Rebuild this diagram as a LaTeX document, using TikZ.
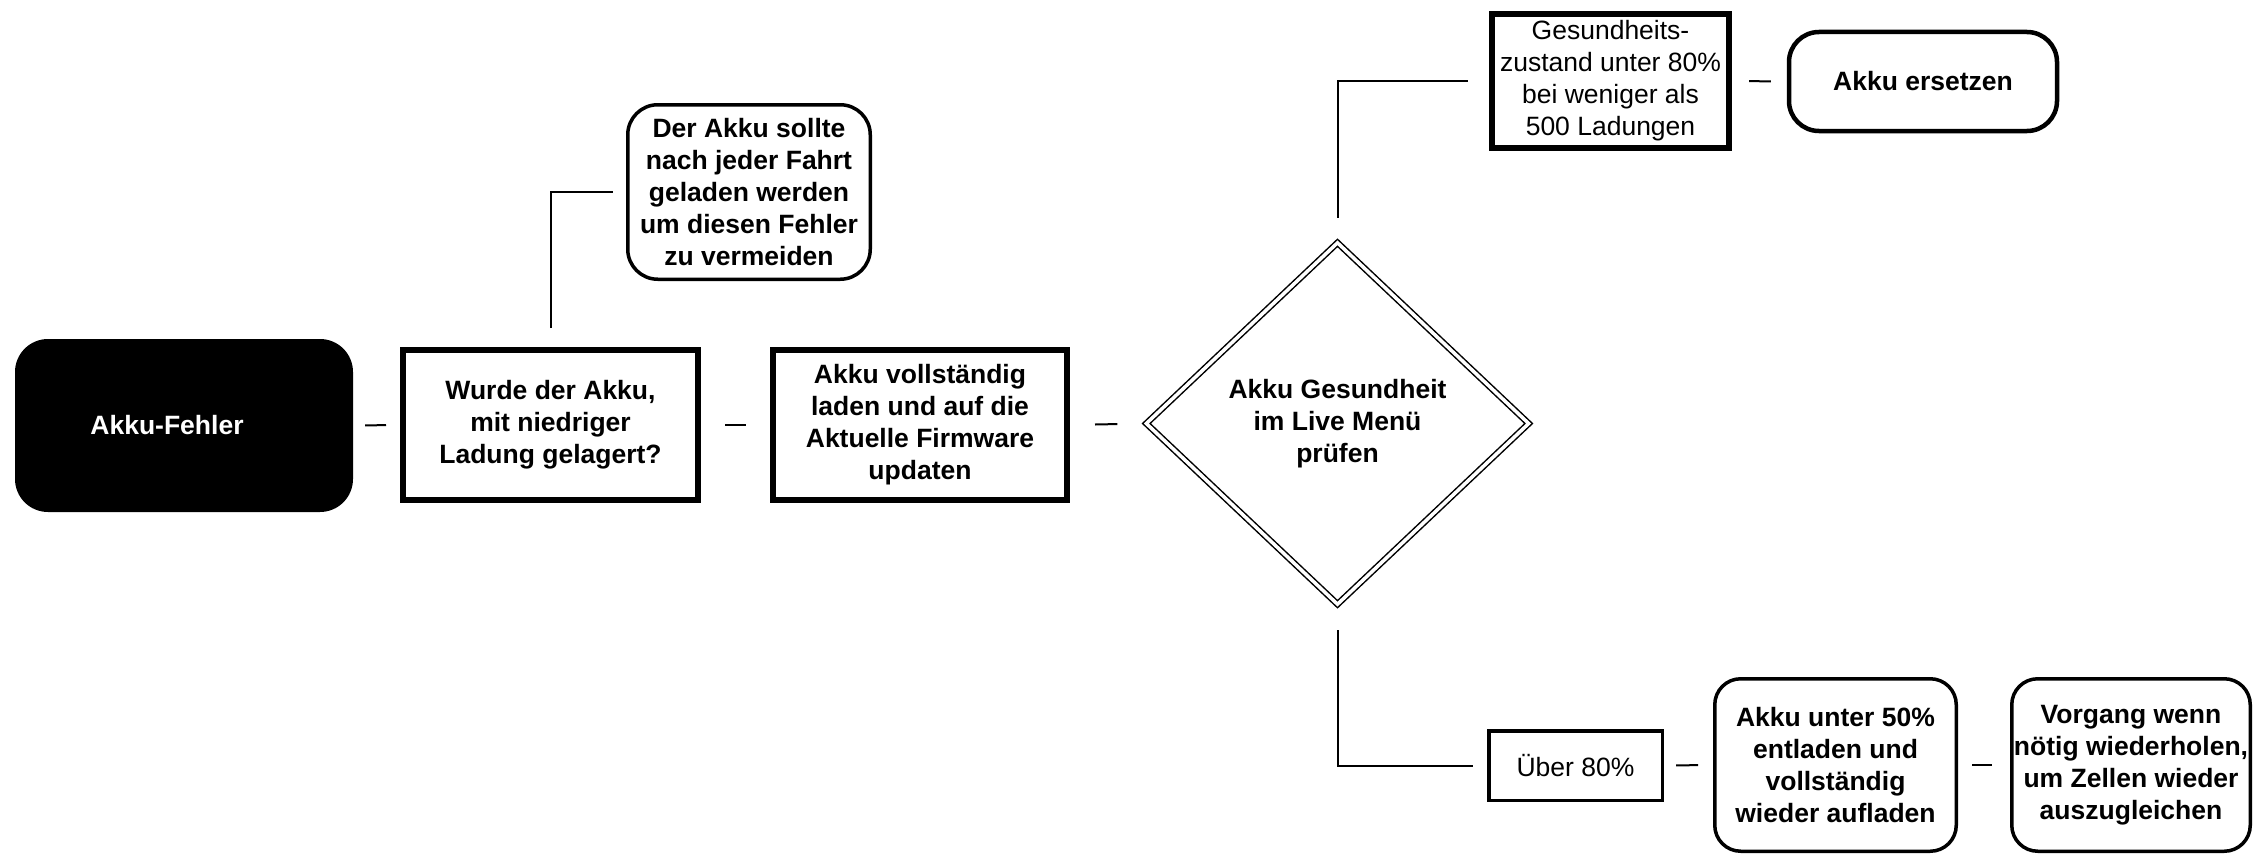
\documentclass[tikz,border=0pt]{standalone}
\usepackage{fontspec}
\setmainfont{Liberation Sans}
\usetikzlibrary{shapes.geometric}
\begin{document}
\begin{tikzpicture}[x=1pt,y=-1pt,
  every node/.style={align=center,font=\fontsize{26.5}{32}\selectfont\bfseries},
  startbox/.style={fill=black,text=white,rounded corners=33pt,minimum width=338pt,minimum height=173pt},
  squarebox/.style={draw,line width=6pt,inner sep=0pt},
  thinbox/.style={draw,line width=3.5pt,inner sep=0pt},
  roundbox/.style={draw,line width=3.5pt,rounded corners=30pt,inner sep=0pt},
  checkbox/.style={draw,shape=diamond,double,line width=1.5pt,double distance=3.5pt,inner sep=0pt,minimum width=383pt,minimum height=362pt},
  plain/.style={font=\fontsize{26.5}{32}\selectfont},
  link/.style={draw,line width=2pt,-}]
\useasboundingbox (0,0) rectangle (2260,859);
\node[startbox] (1) at (184,425.5) {Akku-Fehler\hspace*{34pt}};
\node[squarebox,minimum width=295pt,minimum height=150pt] (2) at (550.5,425) {Wurde der Akku,\\mit niedriger\\Ladung gelagert?};
\node[squarebox,minimum width=294pt,minimum height=150pt] (3) at (920,425) {Akku vollständig\\laden und auf die\\Aktuelle Firmware\\updaten};
\node[checkbox] (4) at (1337.5,423.5) {Akku Gesundheit\\im Live Menü\\prüfen};
\node[roundbox,minimum width=242.5pt,minimum height=174.5pt] (5) at (749,192) {Der Akku sollte\\nach jeder Fahrt\\geladen werden\\um diesen Fehler\\zu vermeiden};
\node[squarebox,plain,minimum width=237pt,minimum height=134pt] (6) at (1610.5,81) {Gesundheits-\\zustand unter 80\%\\bei weniger als\\500 Ladungen};
\node[roundbox,line width=4.5pt,minimum width=268pt,minimum height=99pt] (7) at (1923,81.5) {Akku ersetzen};
\node[thinbox,plain,minimum width=173.5pt,minimum height=69.5pt] (8) at (1575.5,765.5) {Über 80\%};
\node[roundbox,rounded corners=26pt,minimum width=241.5pt,minimum height=172.5pt] (9) at (1835.5,765) {Akku unter 50\%\\entladen und\\vollständig\\wieder aufladen};
\node[roundbox,rounded corners=26pt,minimum width=238.5pt,minimum height=172.5pt] (10) at (2131,765) {Vorgang wenn\\nötig wiederholen,\\um Zellen wieder\\auszugleichen};
\path[link,shorten <=12pt,shorten >=14pt] (1.east) -- (2.west);
\path[link,shorten <=24pt,shorten >=24pt] (2.east) -- (3.west);
\path[link,shorten <=25pt,shorten >=28pt] (3.east) -- (4.west);
\path[link] ([yshift=19pt]2.north) |- ([xshift=-13pt]5.west);
\path[link] ([yshift=24pt]4.north) |- ([xshift=-21pt]6.west);
\path[link] ([yshift=-25pt]4.south) |- ([xshift=-14pt]8.west);
\path[link,shorten <=17pt,shorten >=16pt] (6.east) -- (7.west);
\path[link,shorten <=12pt,shorten >=15pt] (8.east) -- (9.west);
\path[link,shorten <=14pt,shorten >=18pt] (9.east) -- (10.west);
\end{tikzpicture}
\end{document}
